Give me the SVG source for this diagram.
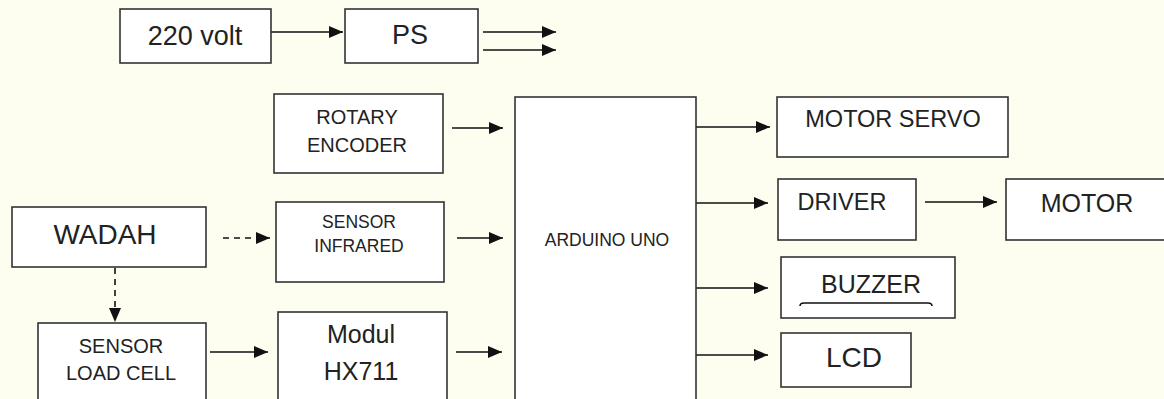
<svg xmlns="http://www.w3.org/2000/svg" width="1164" height="399" viewBox="0 0 1164 399">
<defs>
<style>
.box{fill:#ffffff;stroke:#333333;stroke-width:1.6}
.t{font-family:"Liberation Sans",Arial,sans-serif;fill:#222222;text-anchor:middle}
.c{stroke:#111111;stroke-width:1.6;fill:none}
.d{stroke-dasharray:6,5}
</style>
<marker id="ah" markerUnits="userSpaceOnUse" markerWidth="14" markerHeight="12" viewBox="0 0 14 12" refX="14" refY="6" orient="auto">
<path d="M0,0 L14,6 L0,12 Z" fill="#111111"/>
</marker>
</defs>
<rect width="1164" height="399" fill="#fdfdf0"/>
<g id="connectors">
<line class="c" x1="271" y1="32" x2="343" y2="32" marker-end="url(#ah)"/>
<line class="c" x1="483" y1="32" x2="556" y2="32" marker-end="url(#ah)"/>
<line class="c" x1="483" y1="50" x2="556" y2="50" marker-end="url(#ah)"/>
<line class="c" x1="452" y1="128" x2="503" y2="128" marker-end="url(#ah)"/>
<line class="c d" x1="223" y1="238" x2="270" y2="238" marker-end="url(#ah)"/>
<line class="c" x1="457" y1="238" x2="503" y2="238" marker-end="url(#ah)"/>
<line class="c d" x1="115" y1="268" x2="115" y2="322" marker-end="url(#ah)"/>
<line class="c" x1="210" y1="352" x2="268" y2="352" marker-end="url(#ah)"/>
<line class="c" x1="456" y1="352" x2="502" y2="352" marker-end="url(#ah)"/>
<line class="c" x1="696" y1="127" x2="770" y2="127" marker-end="url(#ah)"/>
<line class="c" x1="696" y1="203" x2="768" y2="203" marker-end="url(#ah)"/>
<line class="c" x1="925" y1="202" x2="997" y2="202" marker-end="url(#ah)"/>
<line class="c" x1="696" y1="288" x2="768" y2="288" marker-end="url(#ah)"/>
<line class="c" x1="696" y1="355" x2="768" y2="355" marker-end="url(#ah)"/>
</g>
<g id="n220">
<rect class="box" x="120" y="9" width="151" height="54"/>
<text class="t" x="195" y="45" font-size="27">220 volt</text>
</g>
<g id="ps">
<rect class="box" x="345" y="9" width="133" height="54"/>
<text class="t" x="410" y="44" font-size="27">PS</text>
</g>
<g id="rotary">
<rect class="box" x="274" y="94" width="169" height="79"/>
<text class="t" x="357" y="124" font-size="20">ROTARY</text>
<text class="t" x="357" y="152" font-size="20">ENCODER</text>
</g>
<g id="wadah">
<rect class="box" x="12" y="207" width="194" height="60"/>
<text class="t" x="105" y="244" font-size="28">WADAH</text>
</g>
<g id="infrared">
<rect class="box" x="276" y="202" width="168" height="80"/>
<text class="t" x="359" y="228" font-size="17.5">SENSOR</text>
<text class="t" x="359" y="252" font-size="17.5">INFRARED</text>
</g>
<g id="loadcell">
<rect class="box" x="38" y="323" width="168" height="80"/>
<text class="t" x="121" y="353" font-size="20">SENSOR</text>
<text class="t" x="121" y="380" font-size="20">LOAD CELL</text>
</g>
<g id="hx711">
<rect class="box" x="278" y="312" width="169" height="91"/>
<text class="t" x="361" y="343" font-size="25">Modul</text>
<text class="t" x="361" y="380" font-size="25">HX711</text>
</g>
<g id="arduino">
<rect class="box" x="515" y="97" width="181" height="306"/>
<text class="t" x="607" y="246" font-size="17.5">ARDUINO UNO</text>
</g>
<g id="servo">
<rect class="box" x="777" y="97" width="231" height="60"/>
<text class="t" x="893" y="127" font-size="23.5">MOTOR SERVO</text>
</g>
<g id="driver">
<rect class="box" x="778" y="179" width="138" height="61"/>
<text class="t" x="842" y="210" font-size="23.5">DRIVER</text>
</g>
<g id="motor">
<rect class="box" x="1006" y="179" width="162" height="61"/>
<text class="t" x="1087" y="212" font-size="25">MOTOR</text>
</g>
<g id="buzzer">
<rect class="box" x="781" y="257" width="174" height="61"/>
<text class="t" x="871" y="293" font-size="25">BUZZER</text>
<path class="c" d="M800,306 Q800,303 804,303 L928,303 Q932,303 932,306" stroke="#333333" stroke-width="1.4"/>
</g>
<g id="lcd">
<rect class="box" x="781" y="333" width="130" height="54"/>
<text class="t" x="854" y="367" font-size="28">LCD</text>
</g>
</svg>
